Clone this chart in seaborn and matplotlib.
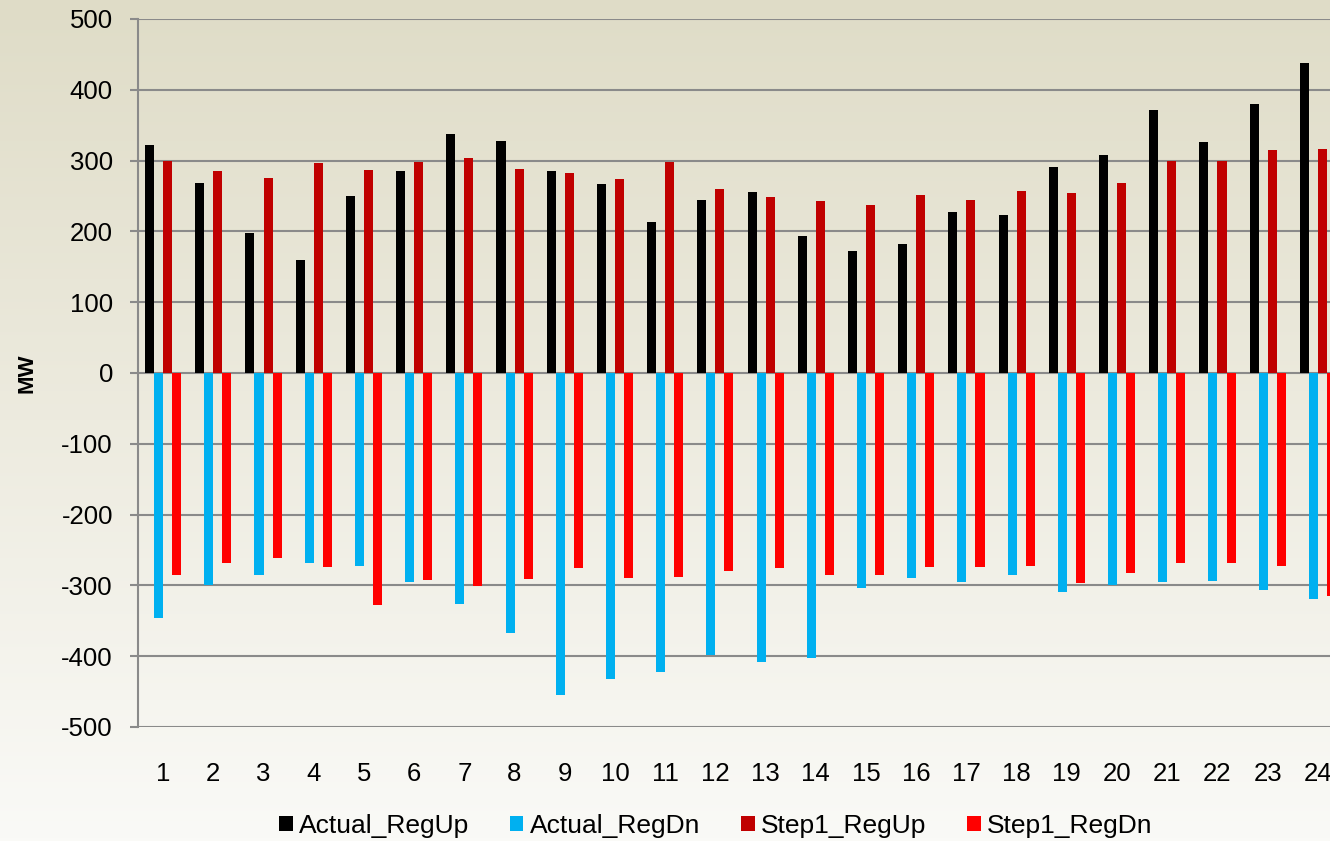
import numpy as np
import pandas as pd
import matplotlib
matplotlib.use("Agg")
import matplotlib.pyplot as plt
import seaborn as sns
from matplotlib.colors import LinearSegmentedColormap

hours = [str(i) for i in range(1, 25)]
actual_regup = [322, 268, 198, 159, 250, 286, 337, 327, 286, 267, 213, 244,
                255, 194, 172, 182, 228, 223, 291, 308, 371, 326, 380, 438]
actual_regdn = [-346, -300, -286, -268, -273, -295, -326, -367, -455, -432, -423, -399,
                -408, -403, -304, -289, -295, -285, -309, -300, -295, -294, -307, -319]
step1_regup = [299, 286, 275, 297, 287, 298, 304, 288, 282, 274, 298, 260,
               248, 243, 237, 252, 245, 257, 254, 268, 300, 299, 315, 317]
step1_regdn = [-286, -269, -262, -274, -328, -292, -301, -291, -276, -290, -288, -279,
               -275, -286, -285, -274, -274, -272, -296, -283, -268, -268, -273, -315]
series_names = ["Actual_RegUp", "Actual_RegDn", "Step1_RegUp", "Step1_RegDn"]
series_colors = ["#000000", "#00B0F0", "#C00000", "#FF0000"]
y_ticks = list(range(-500, 501, 100))

rows = []
for name, vals in zip(series_names, [actual_regup, actual_regdn, step1_regup, step1_regdn]):
    for h, v in zip(hours, vals):
        rows.append({"Hour": h, "Series": name, "MW": v})
df = pd.DataFrame(rows)

sns.set_theme(style="white")
plt.rcParams['font.family'] = ['Liberation Sans', 'DejaVu Sans']
plt.rcParams['text.color'] = 'black'
plt.rcParams['xtick.labelcolor'] = 'black'
plt.rcParams['ytick.labelcolor'] = 'black'

W, H = 1330, 841
fig = plt.figure(figsize=(W / 100, H / 100), dpi=100)

# background gradient
bg = fig.add_axes([0, 0, 1, 1], zorder=-10)
cmap = LinearSegmentedColormap.from_list("bg", ["#DFDCC7", "#EDEBDF", "#FAFAF7"])
grad = np.linspace(0, 1, 256).reshape(-1, 1)
bg.imshow(grad, aspect="auto", cmap=cmap, extent=[0, 1, 0, 1], origin="upper")
bg.set_axis_off()

left, right, top, bottom = 138, 1343, 19, 727
ax = fig.add_axes([left / W, (H - bottom) / H, (right - left) / W, (bottom - top) / H])
ax.patch.set_alpha(0)

sns.barplot(data=df, x="Hour", y="MW", hue="Series", hue_order=series_names,
            palette=series_colors, width=0.72, gap=0, linewidth=0, saturation=1,
            errorbar=None, ax=ax, zorder=3)

ax.set_ylim(-500, 500)
ax.set_xlim(-0.5, 23.5)
ax.set_yticks(y_ticks)
ax.set_yticklabels([str(t) for t in y_ticks])
for t in y_ticks:
    ax.axhline(t, color="#8A8A8A", lw=1.5, zorder=1)

for s in ["top", "right", "bottom"]:
    ax.spines[s].set_visible(False)
ax.spines["left"].set_color("#8A8A8A")
ax.spines["left"].set_linewidth(1.5)
ax.tick_params(axis="y", length=6, width=1.5, color="#8A8A8A", pad=12, labelsize=18.5,
               left=True, labelcolor="black")
ax.tick_params(axis="x", length=0, pad=25, labelsize=18.5, labelcolor="black")
ax.set_xlabel("")
ax.set_ylabel("")
fig.text(27 / W, 1 - 373 / H, "MW", rotation=90, fontsize=16, fontweight="bold",
         ha="center", va="center", color="black")

handles, labels = ax.get_legend_handles_labels()
ax.get_legend().remove()
fig.legend(handles, labels, loc="center", bbox_to_anchor=(716 / W, 1 - 826 / H), ncol=4,
           frameon=False, fontsize=19, handlelength=0.5, handleheight=0.5,
           handletextpad=0.25, columnspacing=1.55, labelcolor="black")

fig.savefig("out.png", dpi=100)
